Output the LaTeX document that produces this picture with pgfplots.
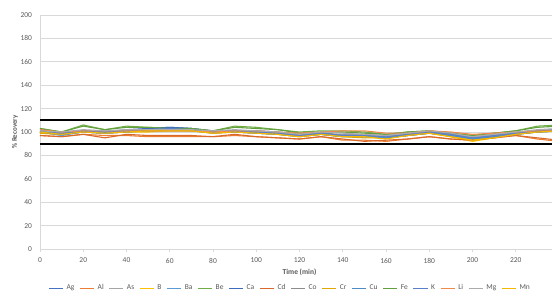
\documentclass[border=0pt]{standalone}
\usepackage{pgfplots}
\usepackage{pgfplotstable}
\pgfplotsset{compat=1.18}
\usepackage{fontspec}
\setmainfont{Carlito}
\definecolor{cAg}{HTML}{4472C4}
\definecolor{cAl}{HTML}{ED7D31}
\definecolor{cAs}{HTML}{A5A5A5}
\definecolor{cB}{HTML}{FFC000}
\definecolor{cBa}{HTML}{5B9BD5}
\definecolor{cBe}{HTML}{70AD47}
\definecolor{cCa}{HTML}{3F6BBF}
\definecolor{cCd}{HTML}{D9692A}
\definecolor{cCo}{HTML}{8C8C8C}
\definecolor{cCr}{HTML}{E0A800}
\definecolor{cCu}{HTML}{4A8BC8}
\definecolor{cFe}{HTML}{62A03D}
\definecolor{cK}{HTML}{5A80CC}
\definecolor{cLi}{HTML}{F08A4B}
\definecolor{cMg}{HTML}{ABABAB}
\definecolor{cMn}{HTML}{F5B800}
\definecolor{txt}{HTML}{595959}
\definecolor{gridc}{HTML}{D9D9D9}
\pgfplotstableread{
t   Ag  Al  As  B   Ba  Be  Ca  Cd  Co  Cr  Cu  Fe  K   Li  Mg  Mn
0   100 97  101 99  100 103 102 97  100 99  100 103 101 102 101 100
10  98  96  99  98  97  100 99  96  99  98  98  100 99  100 100 98
20  100 98  101 100 100 106 101 98  101 100 100 105 101 101 102 100
30  99  97  100 99  99  102 100 95  100 99  99  102 100 101 101 99
40  101 97  101 100 100 105 102 98  101 100 100 104 101 101 102 100
50  103 96  101 100 101 104 103 97  101 101 102 104 102 101 102 101
60  104 96  102 101 101 103 104 97  102 101 102 103 103 101 102 101
70  103 96  101 101 101 103 103 97  102 101 102 103 102 101 102 101
80  100 96  100 99  99  101 101 96  100 99  100 101 100 100 101 99
90  100 97  101 100 100 105 101 98  101 100 100 104 101 101 102 100
100 100 96  100 99  99  104 101 96  100 99  99  103 100 101 101 99
110 99  95  99  98  98  102 100 95  99  98  98  102 99  100 100 98
120 97  94  98  96  96  100 98  94  97  96  97  99  97  99  98  96
130 98  96  99  98  98  101 99  96  99  98  98  100 99  100 100 98
140 97  93  98  96  96  101 97  94  97  96  96  100 97  101 99  96
150 96  93  98  96  96  100 97  92  97  95  96  99  97  101 98  96
160 95  92  97  95  95  98  96  93  96  95  95  98  96  99  97  94
170 97  94  99  97  97  100 98  94  98  97  97  100 98  99  99  97
180 99  96  100 99  99  101 100 96  100 99  99  101 100 101 101 99
190 97  94  99  96  97  99  98  94  98  96  97  99  98  100 99  96
200 94  93  96  92  94  97  95  93  95  93  94  97  95  98  96  93
210 96  95  98  95  96  99  97  95  97  96  96  99  97  99  98  95
220 99  97  99  98  98  101 99  97  99  98  98  101 99  100 100 98
230 100 94  101 100 100 105 101 95  101 100 100 104 101 101 102 100
240 101 92  102 101 101 106 102 93  102 101 101 105 102 101 103 101
}\datatable
\begin{document}
\begin{tikzpicture}[font=\fontsize{7.5}{8.5}\selectfont]
\path[use as bounding box] (-40pt,-51pt) rectangle (512pt,249pt);
\begin{axis}[
  at={(0,0)}, anchor=south west,
  scale only axis, width=519pt, height=234pt,
  xmin=0, xmax=240, ymin=0, ymax=200,
  xtick={0,20,...,240}, ytick={0,20,...,200},
  axis x line*=bottom, axis y line*=left,
  axis line style={gridc, line width=0.8pt},
  every axis plot/.append style={line width=1.1pt},
  ymajorgrids, grid style={gridc, line width=0.8pt},
  x tick style={gridc, line width=0.6pt}, tick align=outside,
  major tick length=2.5pt,
  y tick style={draw=none},
  tick label style={txt, font=\fontsize{7.5}{8.5}\selectfont},
  /pgf/number format/assume math mode=true,
  xticklabel style={yshift=-3pt},
  yticklabel style={xshift=-2pt},
  xlabel={\textbf{Time (min)}},
  xlabel style={txt, at={(axis description cs:0.5,-0.098)}, anchor=center, font=\fontsize{7.5}{8.5}\selectfont},
  ylabel={\textbf{\% Recovery}},
  ylabel style={txt, at={(axis description cs:-0.048,0.5)}, anchor=center, rotate=0, font=\fontsize{7}{8}\selectfont},
  legend columns=16,
  legend style={at={(axis description cs:0.482,-0.167)}, anchor=center, draw=none, fill=none,
    font=\fontsize{7.5}{8.5}\selectfont, text=txt, column sep=3pt,
    /tikz/every odd column/.append style={column sep=1pt}},
  legend image code/.code={\draw[#1, line width=1pt] (0cm,0cm) -- (0.5cm,0cm);},
]
\addplot[black, line width=1.8pt, forget plot] coordinates {(0,110) (240,110)};
\addplot[black, line width=1.8pt, forget plot] coordinates {(0,90) (240,90)};
\addplot[cAg] table[x=t,y=Ag] {\datatable}; \addlegendentry{Ag}
\addplot[cAl] table[x=t,y=Al] {\datatable}; \addlegendentry{Al}
\addplot[cAs] table[x=t,y=As] {\datatable}; \addlegendentry{As}
\addplot[cB] table[x=t,y=B] {\datatable}; \addlegendentry{B}
\addplot[cBa] table[x=t,y=Ba] {\datatable}; \addlegendentry{Ba}
\addplot[cBe] table[x=t,y=Be] {\datatable}; \addlegendentry{Be}
\addplot[cCa] table[x=t,y=Ca] {\datatable}; \addlegendentry{Ca}
\addplot[cCd] table[x=t,y=Cd] {\datatable}; \addlegendentry{Cd}
\addplot[cCo] table[x=t,y=Co] {\datatable}; \addlegendentry{Co}
\addplot[cCr] table[x=t,y=Cr] {\datatable}; \addlegendentry{Cr}
\addplot[cCu] table[x=t,y=Cu] {\datatable}; \addlegendentry{Cu}
\addplot[cFe] table[x=t,y=Fe] {\datatable}; \addlegendentry{Fe}
\addplot[cK] table[x=t,y=K] {\datatable}; \addlegendentry{K}
\addplot[cLi] table[x=t,y=Li] {\datatable}; \addlegendentry{Li}
\addplot[cMg] table[x=t,y=Mg] {\datatable}; \addlegendentry{Mg}
\addplot[cMn] table[x=t,y=Mn] {\datatable}; \addlegendentry{Mn}
\end{axis}
\end{tikzpicture}
\end{document}
